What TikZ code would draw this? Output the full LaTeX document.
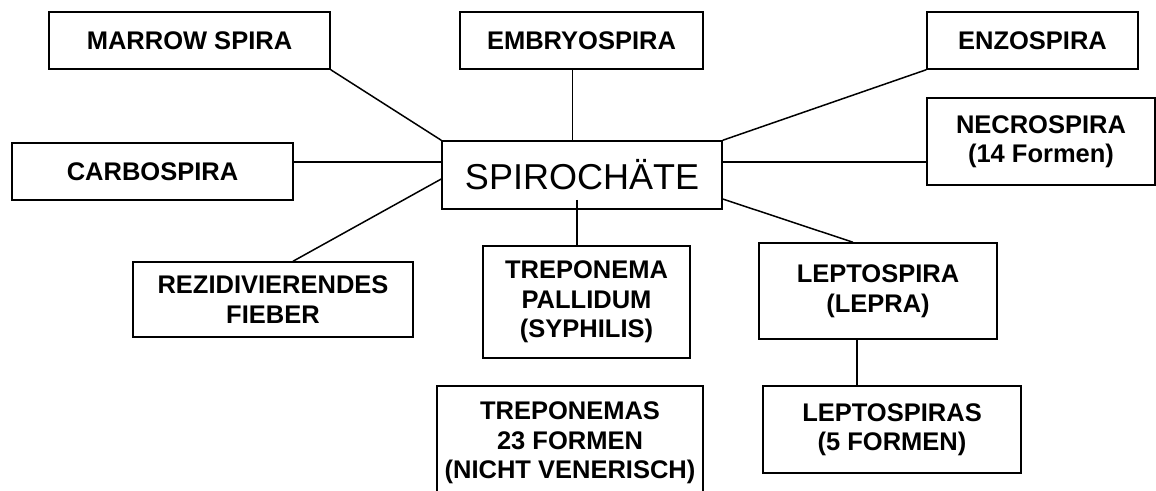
\documentclass[tikz,border=0pt]{standalone}
\usepackage{fontspec}
\setmainfont{Liberation Sans}
\usepackage{tikz}

\begin{document}
\begin{tikzpicture}[
   x=1pt, y=-1pt,
   leaf/.style={rectangle, draw=black, line width=1.5, text=black, align=center,
                inner sep=0, font=\bfseries\fontsize{25.5}{29.5}\selectfont},
   hub/.style={rectangle, draw=black, line width=1.5, text=black,
               inner sep=0, font=\fontsize{36}{40}\selectfont},
   link/.style={draw=black, line width=1.5}
  ]

  % Page frame
  \useasboundingbox (0, 0) rectangle (1156, 490);
  \clip (0, 0) rectangle (1156, 490);

  \node (hub) at (582, 175) [hub, minimum width=280pt, minimum height=68pt] {SPIROCHÄTE};

  \node (marrow) at (189.5, 40.5) [leaf, minimum width=281pt, minimum height=57pt] {MARROW SPIRA};
  \node (embryo) at (581.5, 40.5) [leaf, minimum width=243pt, minimum height=57pt] {EMBRYOSPIRA};
  \node (enzo) at (1032.5, 40.5) [leaf, minimum width=211pt, minimum height=57pt] {ENZOSPIRA};

  \node (necro) at (1041, 141.5) [leaf, minimum width=228pt, minimum height=87pt] {NECROSPIRA\\(14 Formen)};
  \node (carbo) at (152.5, 171.5) [leaf, minimum width=281pt, minimum height=57pt] {CARBOSPIRA};

  \node (rezid) at (273, 299.5) [leaf, minimum width=280pt, minimum height=75pt] {REZIDIVIERENDES\\FIEBER};
  \node (pallid) at (586.5, 302) [leaf, minimum width=207pt, minimum height=112pt] {TREPONEMA\\PALLIDUM\\(SYPHILIS)};
  \node (lepto) at (878, 291) [leaf, minimum width=238pt, minimum height=96pt] {LEPTOSPIRA\\(LEPRA)};

  \node (trepo) at (570, 443) [leaf, minimum width=266pt, minimum height=114pt] {TREPONEMAS\\23 FORMEN\\(NICHT VENERISCH)};
  \node (leptos) at (892, 429.5) [leaf, minimum width=258pt, minimum height=87pt] {LEPTOSPIRAS\\(5 FORMEN)};

  \foreach \B/\E in {marrow.south east/hub.north west, hub.north east/enzo.south west} {
    \draw[link] (\B) -- (\E);
  }

  \draw[link] ([yshift=9.5pt]carbo.east) -- ([yshift=9.5pt]carbo.east -| hub.west);
  \draw[link] ([yshift=-4pt]hub.west) -- ([xshift=20pt]rezid.north);
  \draw[link] ([xshift=-9pt]embryo.south) -- ([xshift=-9pt]embryo.south |- hub.north);
  \draw[link] ([xshift=-5pt, yshift=10pt]hub.south) -- ([xshift=-5pt]hub.south |- pallid.north);
  \draw[link] ([yshift=13pt]hub.east) -- ([yshift=13pt]hub.east -| necro.west);
  \draw[link] ([yshift=-24pt]hub.east) -- ([xshift=-25pt]lepto.north);
  \draw[link] ([xshift=-21pt]lepto.south) -- ([xshift=-21pt]lepto.south |- leptos.north);

\end{tikzpicture}
\end{document}
